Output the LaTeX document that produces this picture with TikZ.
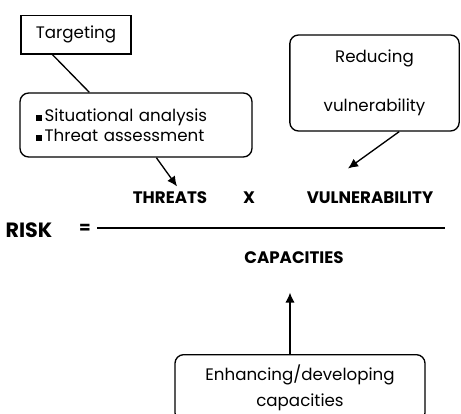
\documentclass[tikz,border=0pt]{standalone}
\usepackage{fontspec}
\setmainfont{Poppins}
\usetikzlibrary{arrows.meta,calc}

\begin{document}
\begin{tikzpicture}[%
                    x=0.75pt,y=-0.75pt,%
                    font=\fontsize{12.5}{15}\selectfont,%
                    plainbox/.style={draw,line width=1pt,minimum width=82.5pt,minimum height=29pt,inner sep=0pt},%
                    roundbox/.style={draw,line width=1pt,rounded corners=6.5pt,inner sep=0pt},%
                    term/.style={font=\fontsize{12.5}{15}\selectfont\bfseries,inner sep=1pt},%
                    link/.style={line width=1pt},%
                    push/.style={line width=1pt,-{Latex[length=7.5pt,width=7pt]}},%
                    ]%
\useasboundingbox (0,0) rectangle (461,414);%
\node[plainbox] (tgt) at (76,34.5) {Targeting};%
\node[roundbox,minimum width=174pt,minimum height=48pt,inner xsep=12pt,text width=150pt,align=left] (bul) at (136,125)
  {\rule[0.5pt]{4.5pt}{4.5pt}\kern2pt Situational analysis\\\rule[0.5pt]{4.5pt}{4.5pt}\kern2pt Threat assessment};%
\node[roundbox,minimum width=127pt,minimum height=72pt,align=center] (red) at (374.5,83)
  {Reducing\\[21.5pt]vulnerability};%
\node[roundbox,minimum width=187.5pt,minimum height=50pt,align=center] (enh) at (300,388)
  {Enhancing/developing\\[4.5pt]capacities};%
\node[term,font=\fontsize{15.5}{18}\selectfont\bfseries] (risk) at (29,230) {RISK};%
\node[term] (eq) at (85,229) {=};%
\node[term] (threats) at (170,198) {THREATS};%
\node[term] (times) at (249,198) {X};%
\node[term] (vuln) at (370,198) {VULNERABILITY};%
\node[term] (cap) at (294,258) {CAPACITIES};%
\coordinate (barl) at (97,228);%
\coordinate (barr) at (445,228);%
\draw[link] (barl) -- (barr);%
\draw[link] (tgt.south west) ++(32,0) -- ($(bul.north west)+(70,0)$);%
\draw[push] ($(bul.south west)+(137,0)$) -- ($(threats.north)+(7,-4)$);%
\draw[push] ($(red.south west)+(110,0)$) -- ($(vuln.north)+(-22,-22)$);%
\draw[push] (enh.north -| 290,0) -- ($(cap.south)+(-4,27)$);%
\end{tikzpicture}
\end{document}
